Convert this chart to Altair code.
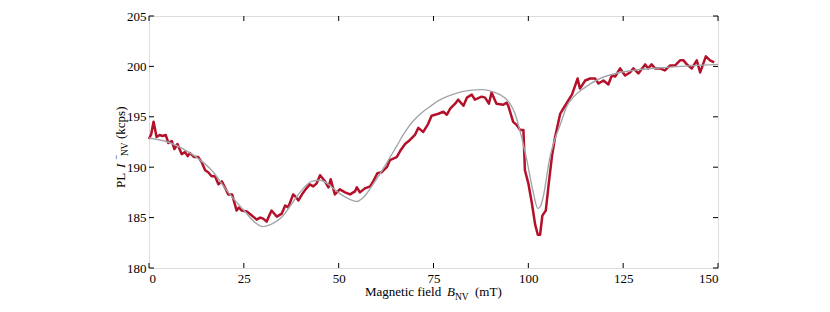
import altair as alt
import pandas as pd

# Measured PL data (red)
b_data = [0.0, 0.6, 1.2, 2.0, 2.8, 3.6, 4.4, 5.1, 6.0, 6.7, 7.5, 8.6, 9.5, 10.2, 10.8, 11.9,
          13.0, 13.9, 14.8, 15.6, 16.5, 17.4, 18.3, 19.2, 20.0, 20.9, 21.9, 23.1, 23.7, 24.4,
          25.8, 27.1, 28.4, 29.3, 30.1, 31.0, 32.3, 33.7, 35.0, 35.9, 36.7, 38.0, 38.8, 39.4,
          40.5, 41.5, 42.4, 43.3, 44.2, 45.1, 46.4, 47.3, 47.9, 49.0, 50.3, 51.7, 53.0, 54.3,
          54.8, 55.6, 56.9, 58.3, 59.1, 60.2, 61.3, 62.7, 63.5, 65.3, 66.2, 67.5, 68.8, 70.1,
          71.0, 72.3, 73.6, 74.5, 76.3, 77.6, 78.5, 79.4, 80.7, 81.5, 82.9, 83.8, 85.1, 85.9,
          87.7, 88.6, 89.6, 90.3, 91.6, 93.4, 94.3, 94.7, 96.0, 96.9, 97.8, 98.7, 99.1, 100.0,
          100.9, 101.8, 102.5, 103.1, 103.7, 104.6, 105.3, 106.2, 107.0, 108.4, 109.2, 110.5,
          111.5, 113.0, 113.6, 115.0, 116.3, 117.6, 118.5, 119.8, 121.1, 122.0, 122.9, 124.2,
          125.5, 126.8, 127.7, 129.0, 130.8, 131.6, 132.5, 133.4, 134.7, 136.0, 137.4, 138.7,
          140.0, 140.9, 141.8, 143.1, 144.4, 145.3, 146.8, 147.9, 149.0]
pl_data = [192.8, 193.3, 194.5, 193.0, 193.2, 193.1, 193.2, 192.4, 192.6, 191.8, 192.3, 191.3,
           191.5, 191.1, 191.4, 191.0, 191.0, 190.5, 189.7, 189.5, 189.1, 189.1, 188.3, 188.6,
           188.0, 187.3, 187.3, 185.7, 186.0, 185.7, 185.6, 185.2, 184.8, 185.0, 184.9, 184.6,
           185.7, 185.1, 185.4, 186.2, 186.0, 187.3, 187.0, 186.7, 187.4, 187.9, 188.3, 188.1,
           188.4, 189.2, 188.6, 188.0, 188.8, 187.3, 187.8, 187.5, 187.3, 187.6, 188.0, 187.5,
           187.9, 188.1, 188.6, 189.4, 189.5, 190.0, 190.7, 191.0, 191.6, 192.3, 192.7, 193.2,
           193.9, 193.5, 194.3, 195.1, 195.3, 195.5, 195.2, 195.8, 196.3, 196.7, 196.1, 196.9,
           197.2, 196.7, 197.0, 196.9, 196.3, 197.4, 196.3, 196.2, 196.4, 196.1, 194.5, 194.2,
           193.7, 193.7, 189.7, 188.4, 186.5, 184.3, 183.3, 183.3, 185.2, 185.7, 188.1, 191.0,
           192.9, 195.3, 195.8, 196.6, 197.2, 198.8, 197.8, 198.6, 198.8, 198.8, 198.3, 198.6,
           198.2, 199.1, 199.0, 199.8, 199.1, 199.4, 199.8, 199.3, 200.2, 199.8, 200.2, 199.8,
           199.8, 199.6, 200.1, 200.1, 200.6, 200.6, 200.2, 199.8, 200.6, 199.4, 201.0, 200.6,
           200.4]

# Fit curve (gray)
b_fit = [0, 5, 10, 12.1, 16.5, 20.9, 25.3, 28, 30, 32, 35.4, 37.5, 39.8, 42.9, 45.1, 47, 48.6,
         51, 53, 54.8, 56.5, 58.7, 61, 63.1, 65.3, 67.5, 69.7, 71.9, 74, 76.3, 78.5, 80.7, 84,
         88, 90.5, 92.5, 95, 96.5, 97.8, 99.6, 101.3, 102.5, 103.3, 104.0, 105.7, 107, 108.4,
         110.1, 112, 114.5, 118.9, 123, 127.6, 136.5, 150]
pl_fit = [192.9, 192.5, 191.6, 191.1, 189.7, 187.5, 185.6, 184.5, 184.1, 184.3, 185.2, 186.3,
          187.5, 188.6, 188.7, 188.4, 187.9, 187.2, 186.8, 186.6, 187.0, 188.1, 189.4, 190.7,
          192.1, 193.5, 194.6, 195.4, 196.0, 196.6, 197.0, 197.3, 197.6, 197.7, 197.5, 197.2,
          196.4, 195.3, 193.6, 190.7, 187.5, 185.9, 186.2, 187.2, 191.0, 192.8, 194.2, 196.0,
          197.0, 197.8, 198.8, 199.3, 199.6, 199.9, 200.2]

x_ticks = [0, 25, 50, 75, 100, 125, 150]
y_ticks = [180, 185, 190, 195, 200, 205]

TOP = 8
W, H = 569, 260 - TOP
FONT = "Times New Roman, Liberation Serif, serif"

xs = alt.Scale(domain=[0, 150], nice=False, zero=False)
ys = alt.Scale(domain=[180, 205], nice=False, zero=False)

df_data = pd.DataFrame({"B": b_data, "PL": pl_data})
df_fit = pd.DataFrame({"B": b_fit, "PL": pl_fit})
df_xt = pd.DataFrame({"t": x_ticks})
df_yt = pd.DataFrame({"t": y_ticks})

x_axis = alt.Axis(values=x_ticks, ticks=False, domain=False, grid=False, labelPadding=4,
                  title=None, labelFont=FONT, labelFontSize=13, labelColor="black")
y_axis = alt.Axis(values=y_ticks, ticks=False, domain=False, grid=False, labelPadding=3,
                  title=None, labelFont=FONT, labelFontSize=13, labelColor="black")

red = alt.Chart(df_data).mark_line(color="#B3112A", strokeWidth=2.5, strokeJoin="round").encode(
    x=alt.X("B:Q", scale=xs, axis=x_axis),
    y=alt.Y("PL:Q", scale=ys, axis=y_axis),
)
gray = alt.Chart(df_fit).mark_line(color="#A2A6AB", strokeWidth=1.4, interpolate="monotone").encode(
    x=alt.X("B:Q", scale=xs),
    y=alt.Y("PL:Q", scale=ys),
)

tk = dict(color="black", strokeWidth=1)
xb = alt.Chart(df_xt).mark_rule(**tk).encode(x=alt.X("t:Q", scale=xs), y=alt.value(H), y2=alt.value(H - 5))
xt = alt.Chart(df_xt).mark_rule(**tk).encode(x=alt.X("t:Q", scale=xs), y=alt.value(0), y2=alt.value(5))
yl = alt.Chart(df_yt).mark_rule(**tk).encode(y=alt.Y("t:Q", scale=ys), x=alt.value(0), x2=alt.value(5))
yr = alt.Chart(df_yt).mark_rule(**tk).encode(y=alt.Y("t:Q", scale=ys), x=alt.value(W), x2=alt.value(W - 5))

one = alt.Data(values=[{"a": 1}])


def txt(s, x, y, size=13, italic=False, angle=0):
    kw = dict(text=s, font=FONT, fontSize=size, color="black", align="left", baseline="alphabetic")
    if italic:
        kw["fontStyle"] = "italic"
    if angle:
        kw["angle"] = angle
    return alt.Chart(one).mark_text(**kw).encode(x=alt.value(x), y=alt.value(y - TOP))


# x-axis title: Magnetic field B_NV (mT)
t1 = txt("Magnetic field", 216, 288)
t2 = txt("B", 298, 288, italic=True)
t3 = txt("NV", 306, 292, size=9.5)
t4 = txt("(mT)", 326, 288)

# y-axis title: PL I_NV^- (kcps)
r1 = txt("PL", -24, 180, angle=270)
r2 = txt("I", -24, 160, italic=True, angle=270)
r3 = txt("NV", -21, 148, size=9.5, angle=270)
r4 = txt("\u2212", -30, 152, size=9, angle=270)
r5 = txt("(kcps)", -24, 131, angle=270)

chart = alt.layer(red, gray, xb, xt, yl, yr, t1, t2, t3, t4, r1, r2, r3, r4, r5).properties(
    width=W, height=H,
    autosize=alt.AutoSizeParams(type="none"),
    padding={"left": 141, "top": TOP, "right": 30, "bottom": 36},
).configure_view(stroke="black", strokeWidth=1.5).configure(background="white")

chart.save("out.html", embed_options={"renderer": "svg", "actions": False})
